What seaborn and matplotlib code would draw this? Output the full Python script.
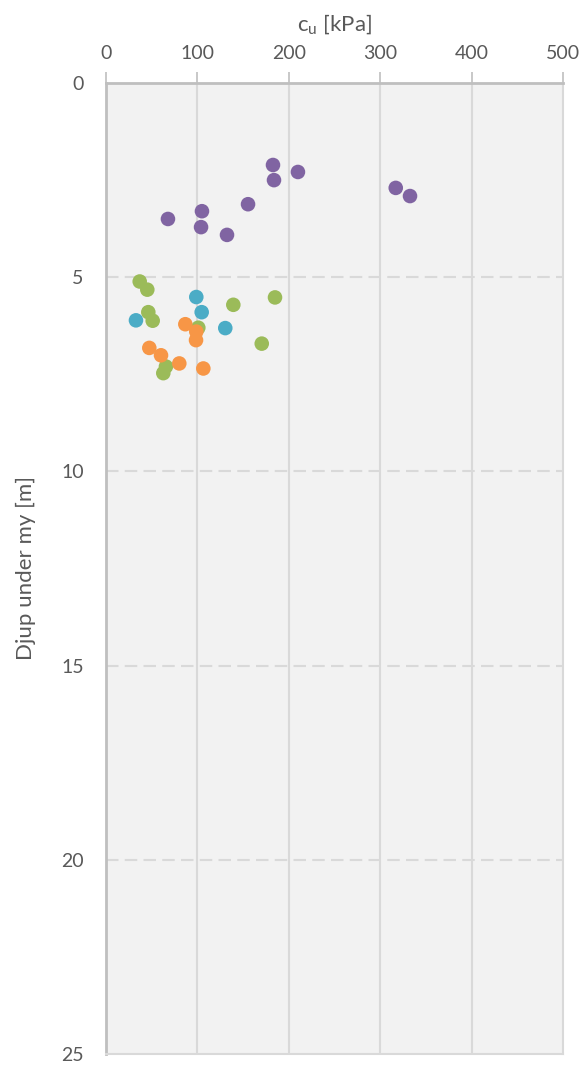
import numpy as np
import pandas as pd
import seaborn as sns
from matplotlib import pyplot as plt

# data (cu in kPa, depth in m)
purple_cu = [182.7, 210.0, 183.8, 317.0, 332.6, 155.4, 105.0, 67.8, 104.0, 132.4]
purple_z = [2.11, 2.29, 2.50, 2.70, 2.91, 3.12, 3.30, 3.50, 3.71, 3.91]

green_cu = [36.9, 45.2, 46.3, 51.1, 101.0, 139.3, 184.9, 170.4, 65.6, 62.7]
green_z = [5.11, 5.32, 5.90, 6.12, 6.30, 5.71, 5.52, 6.71, 7.30, 7.47]

blue_cu = [98.8, 104.7, 32.8, 130.5]
blue_z = [5.51, 5.90, 6.11, 6.31]

orange_cu = [86.8, 98.8, 98.5, 47.4, 60.2, 80.2, 106.5]
orange_z = [6.21, 6.40, 6.62, 6.82, 7.01, 7.22, 7.35]

series = ['S1', 'S2', 'S3', 'S4']
colors = ['#8064a2', '#9bbb59', '#4bacc6', '#f79646']

x_ticks = [0, 100, 200, 300, 400, 500]
y_ticks = [0, 5, 10, 15, 20, 25]

df = pd.concat([
    pd.DataFrame({'cu': purple_cu, 'z': purple_z, 'serie': series[0]}),
    pd.DataFrame({'cu': green_cu, 'z': green_z, 'serie': series[1]}),
    pd.DataFrame({'cu': blue_cu, 'z': blue_z, 'serie': series[2]}),
    pd.DataFrame({'cu': orange_cu, 'z': orange_z, 'serie': series[3]}),
], ignore_index=True)

sns.set_style('white')
plt.rcParams['font.family'] = ['Lato', 'DejaVu Sans']
txt = '#595959'

fig = plt.figure(figsize=(5.82, 10.66), dpi=100)
ax = fig.add_axes([0.1821, 0.0113, 0.7853, 0.9108])
ax.set_facecolor('#f2f2f2')

sns.scatterplot(data=df, x='cu', y='z', hue='serie', palette=dict(zip(series, colors)),
                s=110, edgecolor='none', legend=False, ax=ax, zorder=3)

ax.set_xlim(0, 500)
ax.set_ylim(25, 0)
ax.set_xticks(x_ticks)
ax.set_yticks(y_ticks)
ax.xaxis.tick_top()
ax.xaxis.set_label_position('top')
ax.tick_params(axis='both', colors='#bfbfbf', labelcolor=txt, labelsize=14,
               length=8, width=1.2, direction='out')
ax.tick_params(axis='x', pad=7)
ax.tick_params(axis='y', pad=8)

for x in x_ticks[1:-1]:
    ax.axvline(x, color='#d9d9d9', lw=1.5, zorder=1)
for y in y_ticks[1:-1]:
    ax.axhline(y, color='#d9d9d9', lw=1.5, ls=(0, (6, 3)), zorder=1)

for side in ['left', 'top']:
    ax.spines[side].set_color('#bfbfbf')
    ax.spines[side].set_linewidth(2)
for side in ['right', 'bottom']:
    ax.spines[side].set_color('#d9d9d9')
    ax.spines[side].set_linewidth(1.5)

ax.set_xlabel(r'c$_\mathregular{u}$ [kPa]', color=txt, fontsize=16, labelpad=10)
ax.set_ylabel('Djup under my [m]', color=txt, fontsize=16, labelpad=18)

plt.savefig('out.png', dpi=100)
